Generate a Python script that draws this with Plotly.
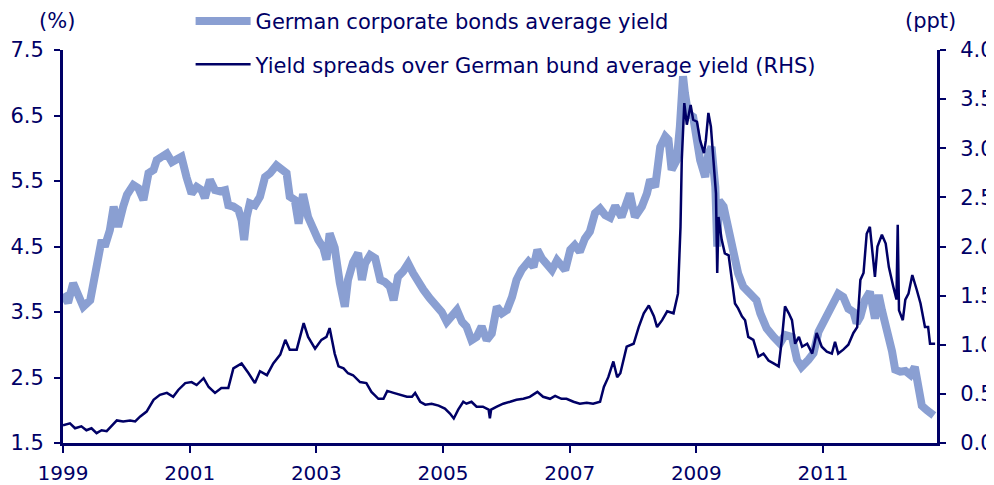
import plotly.graph_objects as go

# German corporate bonds average yield (%), left axis
corp_x = [1999.00, 1999.08, 1999.16, 1999.24, 1999.32, 1999.43, 1999.48, 1999.53, 1999.61, 1999.66,
          1999.74, 1999.80, 1999.87, 1999.95, 2000.01, 2000.11, 2000.19, 2000.27, 2000.35, 2000.43,
          2000.48, 2000.56, 2000.64, 2000.72, 2000.80, 2000.87, 2000.95, 2001.03, 2001.11, 2001.19,
          2001.24, 2001.32, 2001.40, 2001.48, 2001.56, 2001.61, 2001.69, 2001.77, 2001.82, 2001.86,
          2001.90, 2001.95, 2002.03, 2002.11, 2002.19, 2002.27, 2002.37, 2002.45, 2002.53, 2002.58,
          2002.66, 2002.72, 2002.79, 2002.87, 2002.95, 2003.03, 2003.11, 2003.16, 2003.21, 2003.29,
          2003.37, 2003.45, 2003.50, 2003.58, 2003.66, 2003.72, 2003.77, 2003.85, 2003.93, 2004.01,
          2004.08, 2004.16, 2004.22, 2004.29, 2004.37, 2004.45, 2004.53, 2004.61, 2004.69, 2004.79,
          2004.90, 2004.98, 2005.06, 2005.14, 2005.22, 2005.30, 2005.37, 2005.45, 2005.53, 2005.61,
          2005.69, 2005.77, 2005.85, 2005.93, 2006.01, 2006.09, 2006.16, 2006.24, 2006.35, 2006.43,
          2006.49, 2006.56, 2006.64, 2006.72, 2006.80, 2006.87, 2006.93, 2007.01, 2007.08, 2007.16,
          2007.24, 2007.32, 2007.40, 2007.48, 2007.56, 2007.64, 2007.72, 2007.82, 2007.95, 2008.03,
          2008.14, 2008.22, 2008.27, 2008.35, 2008.43, 2008.51, 2008.56, 2008.61, 2008.69, 2008.74,
          2008.79, 2008.82, 2008.87, 2008.95, 2009.00, 2009.06, 2009.14, 2009.19, 2009.24, 2009.30,
          2009.33, 2009.36, 2009.43, 2009.51, 2009.58, 2009.66, 2009.74, 2009.85, 2009.95, 2010.01,
          2010.11, 2010.22, 2010.32, 2010.40, 2010.51, 2010.59, 2010.66, 2010.77, 2010.85, 2010.93,
          2011.01, 2011.09, 2011.16, 2011.24, 2011.32, 2011.40, 2011.48, 2011.53, 2011.59, 2011.66,
          2011.74, 2011.82, 2011.88, 2011.93, 2012.01, 2012.09, 2012.14, 2012.22, 2012.30, 2012.38,
          2012.45, 2012.51, 2012.56, 2012.64, 2012.75]
corp_y = [3.78, 3.64, 3.94, 3.73, 3.58, 3.68, 3.99, 4.25, 4.60, 4.50,
          4.75, 5.11, 4.80, 5.11, 5.29, 5.44, 5.39, 5.21, 5.62, 5.67,
          5.82, 5.87, 5.92, 5.79, 5.82, 5.87, 5.56, 5.31, 5.41, 5.36,
          5.24, 5.52, 5.36, 5.34, 5.36, 5.13, 5.11, 5.06, 4.90, 4.60,
          4.95, 5.16, 5.13, 5.26, 5.56, 5.62, 5.74, 5.69, 5.62, 5.26,
          5.21, 4.85, 5.30, 4.95, 4.75, 4.60, 4.48, 4.30, 4.70, 4.48,
          3.95, 3.58, 3.99, 4.26, 4.40, 3.99, 4.24, 4.37, 4.32, 3.99,
          3.96, 3.89, 3.68, 4.04, 4.12, 4.24, 4.09, 3.94, 3.84, 3.71,
          3.58, 3.50, 3.35, 3.45, 3.53, 3.35, 3.28, 3.07, 3.12, 3.28,
          3.07, 3.17, 3.58, 3.48, 3.53, 3.73, 3.99, 4.14, 4.27, 4.19,
          4.45, 4.32, 4.22, 4.14, 4.29, 4.22, 4.14, 4.45, 4.52, 4.42,
          4.62, 4.73, 5.01, 5.08, 4.98, 4.94, 5.12, 4.95, 5.31, 4.95,
          5.11, 5.31, 5.52, 5.41, 6.02, 6.18, 6.13, 5.67, 5.82, 6.33,
          7.10, 6.84, 6.53, 6.48, 6.07, 5.82, 5.56, 5.92, 6.02, 5.41,
          4.50, 5.20, 5.11, 4.70, 4.40, 4.09, 3.89, 3.79, 3.68, 3.48,
          3.25, 3.12, 3.02, 3.15, 3.12, 2.77, 2.66, 2.77, 2.87, 3.20,
          3.33, 3.48, 3.63, 3.78, 3.73, 3.55, 3.50, 3.33, 3.43, 3.68,
          3.81, 3.40, 3.76, 3.53, 3.25, 2.90, 2.62, 2.59, 2.60, 2.54,
          2.66, 2.33, 2.07, 2.00, 1.92]

# Yield spreads over German bund average yield (ppt), right axis
spread_x = [1999.00, 1999.11, 1999.19, 1999.29, 1999.37, 1999.45, 1999.53, 1999.61, 1999.69, 1999.77,
            1999.85, 1999.95, 2000.06, 2000.14, 2000.22, 2000.32, 2000.43, 2000.53, 2000.64, 2000.74,
            2000.82, 2000.93, 2001.03, 2001.11, 2001.22, 2001.30, 2001.40, 2001.50, 2001.61, 2001.69,
            2001.82, 2001.93, 2002.03, 2002.11, 2002.22, 2002.32, 2002.43, 2002.51, 2002.58, 2002.69,
            2002.80, 2002.87, 2002.98, 2003.08, 2003.16, 2003.21, 2003.29, 2003.35, 2003.43, 2003.50,
            2003.58, 2003.69, 2003.79, 2003.87, 2003.98, 2004.06, 2004.12, 2004.22, 2004.32, 2004.43,
            2004.51, 2004.56, 2004.64, 2004.72, 2004.82, 2004.93, 2005.03, 2005.11, 2005.17, 2005.24,
            2005.32, 2005.37, 2005.45, 2005.53, 2005.63, 2005.72, 2005.74, 2005.76, 2005.85, 2005.95,
            2006.06, 2006.16, 2006.27, 2006.37, 2006.49, 2006.58, 2006.69, 2006.77, 2006.87, 2006.95,
            2007.06, 2007.16, 2007.27, 2007.37, 2007.48, 2007.54, 2007.61, 2007.69, 2007.75, 2007.80,
            2007.90, 2008.01, 2008.09, 2008.17, 2008.25, 2008.33, 2008.38, 2008.46, 2008.54, 2008.64,
            2008.71, 2008.75, 2008.77, 2008.81, 2008.85, 2008.91, 2008.95, 2009.01, 2009.06, 2009.12,
            2009.15, 2009.19, 2009.23, 2009.27, 2009.31, 2009.33, 2009.35, 2009.40, 2009.45, 2009.51,
            2009.56, 2009.61, 2009.66, 2009.72, 2009.77, 2009.82, 2009.90, 2009.98, 2010.06, 2010.14,
            2010.22, 2010.30, 2010.35, 2010.40, 2010.46, 2010.51, 2010.56, 2010.62, 2010.67, 2010.75,
            2010.83, 2010.90, 2010.98, 2011.06, 2011.14, 2011.19, 2011.24, 2011.32, 2011.40, 2011.48,
            2011.54, 2011.59, 2011.64, 2011.69, 2011.74, 2011.79, 2011.82, 2011.86, 2011.93, 2011.99,
            2012.04, 2012.11, 2012.16, 2012.18, 2012.20, 2012.26, 2012.30, 2012.35, 2012.41, 2012.48,
            2012.54, 2012.61, 2012.66, 2012.69, 2012.77]
spread_y = [0.18, 0.20, 0.15, 0.17, 0.13, 0.15, 0.10, 0.13, 0.12, 0.17,
            0.23, 0.22, 0.23, 0.22, 0.27, 0.32, 0.44, 0.49, 0.51, 0.47,
            0.54, 0.61, 0.62, 0.59, 0.66, 0.57, 0.51, 0.56, 0.56, 0.76,
            0.81, 0.71, 0.61, 0.73, 0.69, 0.81, 0.90, 1.05, 0.95, 0.95,
            1.22, 1.08, 0.96, 1.05, 1.08, 1.17, 0.91, 0.78, 0.76, 0.71,
            0.69, 0.62, 0.61, 0.52, 0.45, 0.45, 0.53, 0.51, 0.49, 0.47,
            0.47, 0.51, 0.42, 0.39, 0.40, 0.38, 0.35, 0.30, 0.25, 0.34,
            0.42, 0.40, 0.42, 0.37, 0.37, 0.34, 0.25, 0.34, 0.37, 0.40,
            0.42, 0.44, 0.45, 0.47, 0.52, 0.47, 0.45, 0.48, 0.45, 0.45,
            0.42, 0.40, 0.41, 0.40, 0.42, 0.57, 0.67, 0.83, 0.67, 0.71,
            0.98, 1.01, 1.18, 1.32, 1.40, 1.29, 1.18, 1.25, 1.34, 1.32,
            1.52, 2.20, 2.88, 3.46, 3.24, 3.44, 3.29, 3.27, 3.08, 2.95,
            3.08, 3.36, 3.22, 2.88, 2.54, 1.73, 2.30, 2.07, 1.93, 1.91,
            1.69, 1.42, 1.37, 1.29, 1.25, 1.08, 1.05, 0.88, 0.91, 0.84,
            0.81, 0.78, 1.05, 1.39, 1.32, 1.25, 1.01, 1.08, 0.98, 1.01,
            0.91, 1.12, 0.98, 0.93, 0.91, 1.03, 0.91, 0.95, 1.00, 1.12,
            1.18, 1.66, 1.73, 2.13, 2.20, 1.90, 1.69, 2.00, 2.12, 2.03,
            1.79, 1.59, 1.46, 2.22, 1.35, 1.25, 1.46, 1.52, 1.71, 1.56,
            1.42, 1.18, 1.18, 1.01, 1.01]

x_ticks = [1999, 2001, 2003, 2005, 2007, 2009, 2011]
left_ticks = [1.5, 2.5, 3.5, 4.5, 5.5, 6.5, 7.5]
right_ticks = [0.0, 0.5, 1.0, 1.5, 2.0, 2.5, 3.0, 3.5, 4.0]

NAVY = "#000066"
LIGHT = "#8A9FD2"
FONT = "Verdana, DejaVu Sans, sans-serif"
FS = 21

fig = go.Figure()
fig.add_trace(go.Scatter(x=corp_x, y=corp_y, mode="lines", name="German corporate bonds average yield",
                         line=dict(color=LIGHT, width=8), legendgroup="a"))
fig.add_trace(go.Scatter(x=spread_x, y=spread_y, mode="lines", yaxis="y2",
                         name="Yield spreads over German bund average yield (RHS)",
                         line=dict(color=NAVY, width=2.5), legendgroup="b"))

axis_common = dict(showline=True, linecolor=NAVY, linewidth=3, ticks="outside", tickwidth=2,
                   tickcolor=NAVY, showgrid=False, zeroline=False, automargin=False)

# The page places the figure 8px in from the top-left corner, so the figure is 8px smaller.
fig.update_layout(
    width=986, height=477,
    margin=dict(l=55, r=57, t=42, b=42, autoexpand=False),
    paper_bgcolor="white", plot_bgcolor="white",
    font=dict(family=FONT, size=FS, color=NAVY),
    showlegend=True,
    legend=dict(x=0.146, y=1.125, xanchor="left", yanchor="top", bgcolor="rgba(0,0,0,0)",
                font=dict(size=FS, color=NAVY), itemwidth=55, traceorder="grouped",
                tracegroupgap=13, itemclick=False),
    xaxis=dict(range=[1999, 2012.8], tickvals=x_ticks, ticktext=[str(t) for t in x_ticks],
               ticklen=7, ticklabelstandoff=3, tickfont=dict(size=20, color=NAVY), **axis_common),
    yaxis=dict(range=[1.5, 7.5], tickvals=left_ticks, ticktext=[f"{v:.1f}" for v in left_ticks],
               ticklen=6, ticklabelstandoff=6, tickfont=dict(size=FS, color=NAVY), **axis_common),
    yaxis2=dict(range=[0, 4.0], tickvals=right_ticks, ticktext=[f"{v:.1f}" for v in right_ticks],
                overlaying="y", side="right", ticklen=6, ticklabelstandoff=10,
                tickfont=dict(size=FS, color=NAVY), **axis_common),
    annotations=[
        dict(text="(%)", xref="paper", yref="paper", x=-0.007, y=1.1069, xanchor="center",
             yanchor="top", showarrow=False, borderpad=0, font=dict(size=21, color=NAVY)),
        dict(text="(ppt)", xref="paper", yref="paper", x=0.992, y=1.1069, xanchor="center",
             yanchor="top", showarrow=False, borderpad=0, font=dict(size=21, color=NAVY)),
    ],
)

fig.write_html("out.html")
